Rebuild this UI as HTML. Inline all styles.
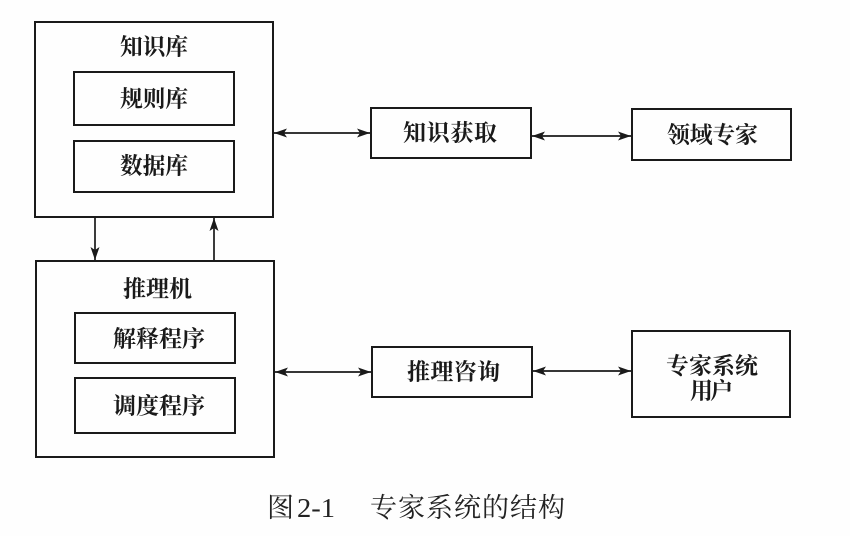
<!DOCTYPE html>
<html>
<head>
<meta charset="utf-8">
<style>
html,body{margin:0;padding:0;background:#fff;}
svg{display:block;}
.lbl{font-family:"Liberation Serif","Noto Serif CJK SC","Noto Sans CJK SC",serif;font-size:23px;font-weight:700;fill:#1a1a1a;}
.cap{font-family:"Liberation Serif","Noto Serif CJK SC",serif;font-size:27px;fill:#222;}
</style>
</head>
<body>
<svg width="850" height="536" viewBox="0 0 850 536" xmlns="http://www.w3.org/2000/svg">
<rect width="850" height="536" fill="#fefefe"/>
<defs>
<marker id="ah" viewBox="0 0 13 9" refX="13" refY="4.5" markerWidth="13" markerHeight="9" markerUnits="userSpaceOnUse" orient="auto-start-reverse">
<path d="M0,0 L13,4.5 L0,9 L3,4.5 Z" fill="#1a1a1a"/>
</marker>
</defs>
<g fill="none" stroke="#1a1a1a" stroke-width="2">
<rect x="35" y="22" width="238" height="195"/>
<rect x="74" y="72" width="160" height="53"/>
<rect x="74" y="141" width="160" height="51"/>
<rect x="36" y="261" width="238" height="196"/>
<rect x="75" y="313" width="160" height="50"/>
<rect x="75" y="378" width="160" height="55"/>
<rect x="371" y="108" width="160" height="50"/>
<rect x="632" y="109" width="159" height="51"/>
<rect x="372" y="347" width="160" height="50"/>
<rect x="632" y="331" width="158" height="86"/>
</g>
<g stroke="#1a1a1a" stroke-width="1.7" fill="none">
<line x1="274" y1="133" x2="370" y2="133" marker-start="url(#ah)" marker-end="url(#ah)"/>
<line x1="532" y1="136" x2="631" y2="136" marker-start="url(#ah)" marker-end="url(#ah)"/>
<line x1="275" y1="372" x2="371" y2="372" marker-start="url(#ah)" marker-end="url(#ah)"/>
<line x1="533" y1="371" x2="631" y2="371" marker-start="url(#ah)" marker-end="url(#ah)"/>
<line x1="95" y1="218" x2="95" y2="260" marker-end="url(#ah)"/>
<line x1="214" y1="260" x2="214" y2="218" marker-end="url(#ah)"/>
</g>
<g class="lbl" dominant-baseline="central">
<text x="120" y="47" textLength="68" lengthAdjust="spacingAndGlyphs">知识库</text>
<text x="120" y="99" textLength="68" lengthAdjust="spacingAndGlyphs">规则库</text>
<text x="120" y="166" textLength="68" lengthAdjust="spacingAndGlyphs">数据库</text>
<text x="123" y="289" textLength="69" lengthAdjust="spacingAndGlyphs">推理机</text>
<text x="113" y="339" textLength="92" lengthAdjust="spacing">解释程序</text>
<text x="113" y="406" textLength="92" lengthAdjust="spacing">调度程序</text>
<text x="403" y="133" textLength="94" lengthAdjust="spacing">知识获取</text>
<text x="667" y="135" textLength="91" lengthAdjust="spacing">领域专家</text>
<text x="407" y="372" textLength="93" lengthAdjust="spacing">推理咨询</text>
<text x="666" y="366" textLength="92" lengthAdjust="spacing">专家系统</text>
<text x="690" y="391" textLength="43" lengthAdjust="spacing">用户</text>
</g>
<g class="cap" dominant-baseline="central">
<text x="267" y="508">图</text>
<text x="297" y="508" textLength="38" lengthAdjust="spacingAndGlyphs">2-1</text>
<text x="370" y="508" textLength="195" lengthAdjust="spacing">专家系统的结构</text>
</g>
</svg>
</body>
</html>
